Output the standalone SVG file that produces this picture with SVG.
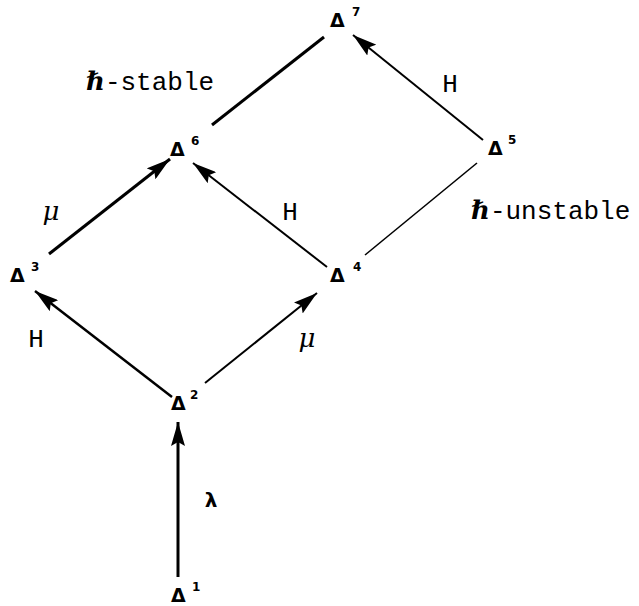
<svg xmlns="http://www.w3.org/2000/svg" width="639" height="606" viewBox="0 0 639 606">
<style>
.d{font-family:"DejaVu Sans",sans-serif;font-weight:bold;font-size:19px;fill:#000}
.s{font-size:12px}
.lab{font-family:"Liberation Mono",monospace;font-size:26px;fill:#000}
.hb{font-family:"DejaVu Serif",serif;font-style:italic;font-weight:bold}
.gr{font-family:"DejaVu Serif",serif;font-style:italic;font-size:26px;fill:#000}
.e{stroke:#000;fill:none;stroke-linecap:butt}
</style>
<defs>
<marker id="ah" viewBox="0 0 24 14" markerWidth="24" markerHeight="14" refX="24" refY="7" orient="auto" markerUnits="userSpaceOnUse">
<path d="M0,0 L24,7 L0,14 L4,7 z" fill="#000"/>
</marker>
</defs>
<rect width="639" height="606" fill="#fff"/>
<g id="connectors">
<line class="e" x1="178" y1="577" x2="178" y2="422" stroke-width="3" marker-end="url(#ah)"/>
<line class="e" x1="172" y1="397" x2="35" y2="291" stroke-width="2.5" marker-end="url(#ah)"/>
<line class="e" x1="205" y1="383" x2="317" y2="293" stroke-width="2" marker-end="url(#ah)"/>
<line class="e" x1="49" y1="254" x2="170" y2="159" stroke-width="3" marker-end="url(#ah)"/>
<line class="e" x1="327" y1="267" x2="193" y2="163" stroke-width="2" marker-end="url(#ah)"/>
<line class="e" x1="365" y1="255" x2="477" y2="163" stroke-width="1.6"/>
<line class="e" x1="212" y1="125" x2="324" y2="37" stroke-width="3"/>
<line class="e" x1="483" y1="140" x2="353" y2="35" stroke-width="2" marker-end="url(#ah)"/>
</g>
<g id="n7"><text class="d" x="330" y="27">Δ<tspan class="s" x="352" y="16">7</tspan></text></g>
<g id="n6"><text class="d" x="170" y="156">Δ<tspan class="s" x="191" y="145">6</tspan></text></g>
<g id="n5"><text class="d" x="488" y="155">Δ<tspan class="s" x="508" y="144">5</tspan></text></g>
<g id="n4"><text class="d" x="330" y="282">Δ<tspan class="s" x="353" y="271">4</tspan></text></g>
<g id="n3"><text class="d" x="10" y="282">Δ<tspan class="s" x="31" y="271">3</tspan></text></g>
<g id="n2"><text class="d" x="171" y="410">Δ<tspan class="s" x="190" y="399">2</tspan></text></g>
<g id="n1"><text class="d" x="171" y="602">Δ<tspan class="s" x="192" y="591">1</tspan></text></g>
<g id="labels">
<text class="lab" x="86" y="90"><tspan class="hb">ℏ</tspan>-stable</text>
<text class="lab" x="471" y="219"><tspan class="hb">ℏ</tspan>-unstable</text>
<text class="lab" x="450" y="92" text-anchor="middle">H</text>
<text class="lab" x="290" y="220" text-anchor="middle">H</text>
<text class="lab" x="36" y="347" text-anchor="middle">H</text>
<text class="gr" x="51" y="220" text-anchor="middle">μ</text>
<text class="gr" x="307" y="347" text-anchor="middle">μ</text>
<text x="211" y="507" text-anchor="middle" style="font-family:'DejaVu Sans',sans-serif;font-weight:bold;font-size:20px">λ</text>
</g>
</svg>
